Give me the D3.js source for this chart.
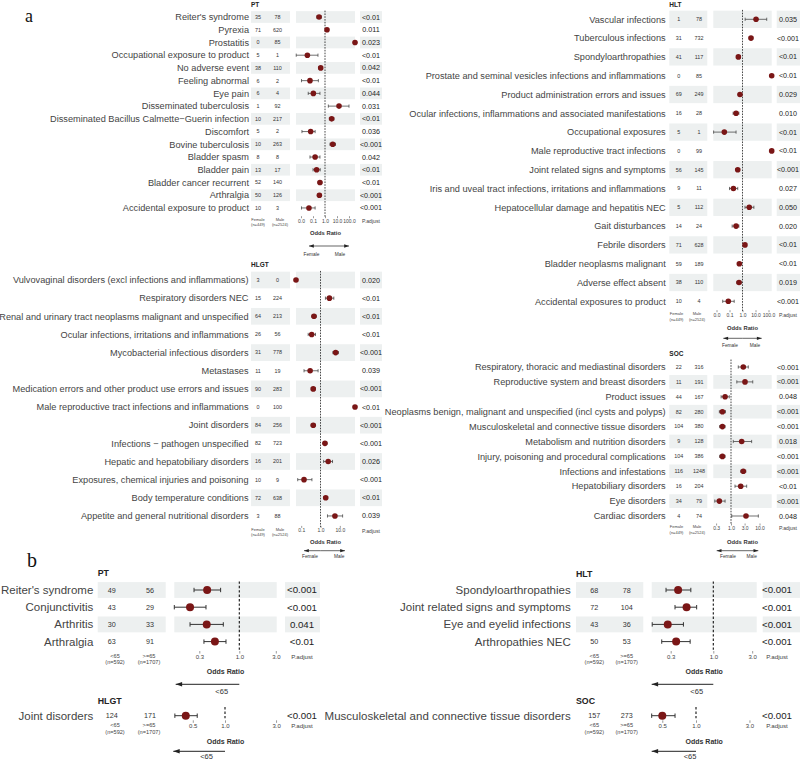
<!DOCTYPE html>
<html><head><meta charset="utf-8">
<script src="https://cdn.jsdelivr.net/npm/d3@7"></script>
<style>body{margin:0;background:#fff}svg{display:block}</style>
</head><body>
<svg id="chart" width="800" height="761"></svg>
<script>
// ================= DATA =================
// Panel a — PT
const aPT_labels = ["Reiter's syndrome","Pyrexia","Prostatitis","Occupational exposure to product","No adverse event","Feeling abnormal","Eye pain","Disseminated tuberculosis","Disseminated Bacillus Calmette\u2212Guerin infection","Discomfort","Bovine tuberculosis","Bladder spasm","Bladder pain","Bladder cancer recurrent","Arthralgia","Accidental exposure to product"];
const aPT_n1 = [35,71,0,5,38,6,6,1,10,5,10,8,13,52,50,10];
const aPT_n2 = [78,620,85,1,110,2,4,92,217,2,263,8,17,140,126,3];
const aPT_or = [0.32,1.47,Infinity,0.034,0.44,0.056,0.107,14.7,3.6,0.064,4.4,0.15,0.2,0.38,0.34,0.046];
const aPT_lo = [0.21,1.15,null,0.004,0.3,0.011,0.04,1.9,2.3,0.012,2.6,0.056,0.1,0.27,0.25,0.011];
const aPT_hi = [0.49,1.9,null,0.26,0.62,0.28,0.38,100,5.5,0.15,7.5,0.38,0.4,0.53,0.47,0.15];
const aPT_p = ["<0.01","0.011","0.023","<0.01","0.042","<0.01","0.044","0.031","<0.01","0.036","<0.001","0.042","<0.01","<0.01","<0.001","<0.001"];
const aPT_ticks = [0.01,0.1,1,10,100];

// Panel a — HLGT
const aHLGT_labels = ["Vulvovaginal disorders (excl infections and inflammations)","Respiratory disorders NEC","Renal and urinary tract neoplasms malignant and unspecified","Ocular infections, irritations and inflammations","Mycobacterial infectious disorders","Metastases","Medication errors and other product use errors and issues","Male reproductive tract infections and inflammations","Joint disorders","Infections \u2212 pathogen unspecified","Hepatic and hepatobiliary disorders","Exposures, chemical injuries and poisoning","Body temperature conditions","Appetite and general nutritional disorders"];
const aHLGT_n1 = [3,15,64,26,31,11,90,0,84,82,16,10,72,3];
const aHLGT_n2 = [0,224,213,56,778,19,283,100,256,723,201,9,638,88];
const aHLGT_or = [0,2.9,0.46,0.35,6.1,0.29,0.42,Infinity,0.42,1.7,2.5,0.14,1.86,5.6];
const aHLGT_lo = [null,1.8,0.36,0.23,4.4,0.14,0.33,null,0.33,1.38,1.45,0.066,1.48,2.3];
const aHLGT_hi = [null,4.9,0.6,0.55,8.5,0.75,0.54,null,0.54,2.15,4.2,0.36,2.35,14];
const aHLGT_p = ["0.020","<0.01","<0.01","<0.01","<0.001","0.039","<0.001","<0.01","<0.001","<0.001","0.026","<0.001","<0.01","0.039"];
const aHLGT_ticks = [0.1,1,10];

// Panel a — HLT
const aHLT_labels = ["Vascular infections","Tuberculous infections","Spondyloarthropathies","Prostate and seminal vesicles infections and inflammations","Product administration errors and issues","Ocular infections, inflammations and associated manifestations","Occupational exposures","Male reproductive tract infections","Joint related signs and symptoms","Iris and uveal tract infections, irritations and inflammations","Hepatocellular damage and hepatitis NEC","Gait disturbances","Febrile disorders","Bladder neoplasms malignant","Adverse effect absent","Accidental exposures to product"];
const aHLT_n1 = [1,31,41,0,69,16,5,0,56,9,5,14,71,59,38,10];
const aHLT_n2 = [78,732,117,85,249,28,1,99,145,11,112,24,628,189,110,4];
const aHLT_or = [11,4.5,0.48,Infinity,0.64,0.32,0.04,Infinity,0.43,0.2,3.3,0.32,1.55,0.57,0.54,0.081];
const aHLT_lo = [1.6,3.3,0.34,null,0.48,0.19,0.006,null,0.31,0.1,1.55,0.16,1.22,0.42,0.37,0.03];
const aHLT_hi = [73,6.2,0.68,null,0.86,0.53,0.32,null,0.6,0.43,7.5,0.53,2.0,0.78,0.8,0.23];
const aHLT_p = ["0.035","<0.001","<0.01","<0.01","0.029","0.010","<0.01","<0.01","<0.001","0.027","0.050","0.020","<0.01","<0.01","0.019","<0.001"];
const aHLT_ticks = [0.01,0.1,1,10,100];

// Panel a — SOC
const aSOC_labels = ["Respiratory, thoracic and mediastinal disorders","Reproductive system and breast disorders","Product issues","Neoplasms benign, malignant and unspecified (incl cysts and polyps)","Musculoskeletal and connective tissue disorders","Metabolism and nutrition disorders","Injury, poisoning and procedural complications","Infections and infestations","Hepatobiliary disorders","Eye disorders","Cardiac disorders"];
const aSOC_n1 = [22,11,44,82,104,9,104,116,16,34,4];
const aSOC_n2 = [316,191,167,280,380,128,386,1248,204,79,74];
const aSOC_or = [2.7,3.1,0.62,0.5,0.5,2.37,0.5,2.7,2.19,0.39,3.36];
const aSOC_lo = [1.8,1.6,0.45,0.39,0.4,1.2,0.4,2.2,1.38,0.27,1.06];
const aSOC_hi = [4.05,5.8,0.87,0.64,0.62,5.3,0.62,3.3,3.55,0.62,9.1];
const aSOC_p = ["<0.001","<0.001","0.048","<0.001","<0.001","0.018","<0.001","<0.001","<0.01","<0.001","0.048"];
const aSOC_ticks = [0.3,1,3,10];

// Panel b — PT
const bPT_labels = ["Reiter's syndrome","Conjunctivitis","Arthritis","Arthralgia"];
const bPT_n1 = [49,43,30,63];
const bPT_n2 = [56,29,33,91];
const bPT_or = [0.38,0.227,0.375,0.48];
const bPT_lo = [0.256,0.14,0.227,0.345];
const bPT_hi = [0.57,0.367,0.618,0.67];
const bPT_p = ["<0.001","<0.001","0.041","<0.01"];
const bPT_ticks = [0.3,1,3];

// Panel b — HLGT
const bHLGT_labels = ["Joint disorders"];
const bHLGT_n1 = [124];
const bHLGT_n2 = [171];
const bHLGT_or = [0.43];
const bHLGT_lo = [0.34];
const bHLGT_hi = [0.55];
const bHLGT_p = ["<0.001"];
const bHLGT_ticks = [0.5,1,3];

// Panel b — HLT
const bHLT_labels = ["Spondyloarthropathies","Joint related signs and symptoms","Eye and eyelid infections","Arthropathies NEC"];
const bHLT_n1 = [68,72,43,50];
const bHLT_n2 = [78,104,36,53];
const bHLT_or = [0.37,0.47,0.276,0.35];
const bHLT_lo = [0.263,0.339,0.178,0.233];
const bHLT_hi = [0.53,0.625,0.43,0.52];
const bHLT_p = ["<0.001","<0.001","<0.001","<0.001"];
const bHLT_ticks = [0.3,1,3];

// Panel b — SOC
const bSOC_labels = ["Musculoskeletal and connective tissue disorders"];
const bSOC_n1 = [157];
const bSOC_n2 = [273];
const bSOC_or = [0.5];
const bSOC_lo = [0.40];
const bSOC_hi = [0.65];
const bSOC_p = ["<0.001"];
const bSOC_ticks = [0.5,1,3];

// column headers / direction labels
const sexCols = [["Female","(n=449)"],["Male","(n=2524)"]];
const ageCols = [["<65","(n=592)"],[">=65","(n=1707)"]];
const sexDir = ["Female","Male"];
const ageDir = ["<65"];

// ================= LAYOUT / DRAW =================
const svg = d3.select("#chart");
const FONT = "'Liberation Sans', Arial, Helvetica, sans-serif";
const SHADE = "#edf0f0";
const DOT = "#7a1616";

const smallA = {fHead:6.5,fLab:9.2,fCnt:5.4,fP:7.2,fTick:5,fCol:4,fOR:5.8,fDir:4.8,r:2.8,lw:0.7,cap:1.6,tick:2,ah:3};
const smallB = {fHead:8.8,fLab:11.5,fCnt:7.2,fP:9.7,fTick:6,fCol:5.6,fOR:7,fDir:7.5,r:4,lw:1,cap:2.2,tick:2.5,ah:4};

function drawPanel(L, D) {
  const n = D.labels.length;
  const dom = [Math.pow(10,(L.plot[0]-L.ref)/L.ppd), Math.pow(10,(L.plot[1]-L.ref)/L.ppd)];
  const x = d3.scaleLog().domain(dom).range(L.plot).clamp(true);
  const y = d3.scalePoint().domain(d3.range(n)).range([L.y0, L.y0 + L.dy*(n-1)]);
  const g = svg.append("g").attr("font-family", FONT);
  const rowH = L.dy*0.92;
  const shaded = d3.range(n).filter(i => (n-1-i)%2===1);
  [L.cnt, L.plot, L.pbg].forEach(([a,b]) => {
    g.selectAll(null).data(shaded).join("rect")
      .attr("x", a).attr("width", b-a)
      .attr("y", i => y(i)-rowH/2).attr("height", rowH).attr("fill", SHADE);
  });
  // header
  g.append("text").attr("x", L.cnt[0]).attr("y", L.headY).attr("dy","0.35em")
    .attr("font-size", L.fHead).attr("font-weight","bold").attr("fill","#222").text(L.head);
  // row labels
  g.selectAll(null).data(d3.range(n)).join("text")
    .attr("x", L.labelX).attr("y", i => y(i)).attr("dy","0.35em").attr("text-anchor","end")
    .attr("font-size", L.fLab).attr("fill","#444").text(i => D.labels[i]);
  // counts
  [[D.n1, L.c1],[D.n2, L.c2]].forEach(([arr, cx]) => {
    g.selectAll(null).data(d3.range(n)).join("text")
      .attr("x", cx).attr("y", i => y(i)).attr("dy","0.35em").attr("text-anchor","middle")
      .attr("font-size", L.fCnt).attr("fill","#333").text(i => arr[i]);
  });
  // p values
  g.selectAll(null).data(d3.range(n)).join("text")
    .attr("x", L.pX).attr("y", i => y(i)).attr("dy","0.35em").attr("text-anchor","middle")
    .attr("font-size", L.fP).attr("fill","#222").text(i => D.p[i]);
  // reference dashed line
  const xr = x(1);
  g.append("line").attr("x1",xr).attr("x2",xr)
    .attr("y1", L.y0 - L.dy/2).attr("y2", L.refEnd != null ? L.refEnd : y(n-1) + L.dy/2)
    .attr("stroke","#111").attr("stroke-width",L.lw*1.1).attr("stroke-dasharray", L.dash);
  // confidence intervals
  const ci = d3.range(n).filter(i => D.lo[i] != null);
  g.selectAll(null).data(ci).join("line")
    .attr("x1", i => x(D.lo[i])).attr("x2", i => x(D.hi[i]))
    .attr("y1", i => y(i)).attr("y2", i => y(i))
    .attr("stroke","#333").attr("stroke-width", L.lw);
  ["lo","hi"].forEach(k => {
    g.selectAll(null).data(ci).join("line")
      .attr("x1", i => x(D[k][i])).attr("x2", i => x(D[k][i]))
      .attr("y1", i => y(i)-L.cap).attr("y2", i => y(i)+L.cap)
      .attr("stroke","#333").attr("stroke-width", L.lw);
  });
  // points
  g.selectAll(null).data(d3.range(n)).join("circle")
    .attr("cx", i => D.or[i] === Infinity ? L.plot[1] : (D.or[i] === 0 ? L.plot[0] : x(D.or[i])))
    .attr("cy", i => y(i)).attr("r", L.r).attr("fill", DOT);
  // axis
  const axisTop = L.axisY - L.tick - 1 - 0.36*L.fTick;
  const ax = d3.axisBottom(x).tickValues(D.ticks).tickFormat(d3.format(".1f")).tickSize(L.tick).tickPadding(1);
  const ag = g.append("g").attr("transform", `translate(0,${axisTop})`).call(ax);
  ag.attr("font-size", null).attr("font-family", null);
  ag.select(".domain").remove();
  ag.selectAll("text").attr("font-size", L.fTick).attr("fill","#444");
  ag.selectAll("line").attr("stroke","#555").attr("stroke-width",0.6);
  // column labels
  [[L.cl1, L.cols[0]],[L.cl2, L.cols[1]]].forEach(([cx, lines]) => {
    lines.forEach((t, j) => {
      g.append("text").attr("x", cx).attr("y", L.colY[j]).attr("dy","0.35em").attr("text-anchor","middle")
        .attr("font-size", L.fCol).attr("fill","#444").text(t);
    });
  });
  g.append("text").attr("x", L.pX).attr("y", L.axisY).attr("dy","0.35em").attr("text-anchor","middle")
    .attr("font-size", L.fTick+0.2).attr("fill","#444").text("P.adjust");
  // Odds Ratio title
  g.append("text").attr("x", (L.plot[0]+L.plot[1])/2).attr("y", L.orY).attr("dy","0.35em").attr("text-anchor","middle")
    .attr("font-size", L.fOR).attr("font-weight","bold").attr("fill","#333").text("Odds Ratio");
  // arrows
  const arrowTo = (x2) => {
    g.append("line").attr("x1", xr).attr("x2", x2).attr("y1", L.arrY).attr("y2", L.arrY)
      .attr("stroke","#222").attr("stroke-width", L.lw);
    const s = x2 < xr ? 1 : -1;
    g.append("path").attr("d", `M${x2},${L.arrY}L${x2+s*L.ah*1.6},${L.arrY-L.ah*0.55}L${x2+s*L.ah*1.6},${L.arrY+L.ah*0.55}Z`)
      .attr("fill","#222");
  };
  arrowTo(L.arrL);
  if (L.arrR != null) arrowTo(L.arrR);
  L.dir.forEach((t, j) => {
    g.append("text").attr("x", L.dirX[j]).attr("y", L.dirY).attr("dy","0.35em").attr("text-anchor","middle")
      .attr("font-size", L.fDir).attr("fill","#333").text(t);
  });
}

const data = (labels,n1,n2,or,lo,hi,p,ticks) => ({labels,n1,n2,or,lo,hi,p,ticks});

// a — PT
drawPanel(Object.assign({}, smallA, {head:"PT", headY:4.5, y0:17, dy:12.73, labelX:249, cnt:[251,290], c1:258, c2:277.5, cl1:258, cl2:280,
  plot:[296,355], ref:325, ppd:12, pbg:[360,382], pX:371, axisY:221, colY:[219.5,224.5], orY:233,
  arrY:246, arrL:309, arrR:349, dirY:254.5, dirX:[311.5,340], dir:sexDir, cols:sexCols, refEnd:217, dash:"1.6,1.2"}),
  data(aPT_labels,aPT_n1,aPT_n2,aPT_or,aPT_lo,aPT_hi,aPT_p,aPT_ticks));

// a — HLGT
drawPanel(Object.assign({}, smallA, {head:"HLGT", headY:265, y0:280, dy:18.15, labelX:248.5, cnt:[251,290], c1:258, c2:277.5, cl1:258, cl2:280,
  plot:[296,355], ref:320.5, ppd:19.3, pbg:[360,382], pX:371, axisY:530.7, colY:[529.5,534.5], orY:541.7,
  arrY:550.7, arrL:304, arrR:345, dirY:556.7, dirX:[310,339.3], dir:sexDir, cols:sexCols, refEnd:527, dash:"1.6,1.2"}),
  data(aHLGT_labels,aHLGT_n1,aHLGT_n2,aHLGT_or,aHLGT_lo,aHLGT_hi,aHLGT_p,aHLGT_ticks));

// a — HLT
drawPanel(Object.assign({}, smallA, {head:"HLT", headY:5, y0:19.3, dy:18.8, labelX:665.7, cnt:[669.3,707.3], c1:678.7, c2:699, cl1:676.5, cl2:697,
  plot:[713.3,771.7], ref:742.5, ppd:13, pbg:[776.7,800], pX:788, axisY:315, colY:[314,319.5], orY:328.3,
  arrY:338.3, arrL:723.3, arrR:761.7, dirY:345, dirX:[730,755], dir:sexDir, cols:sexCols, refEnd:311, dash:"1.6,1.2"}),
  data(aHLT_labels,aHLT_n1,aHLT_n2,aHLT_or,aHLT_lo,aHLT_hi,aHLT_p,aHLT_ticks));

// a — SOC
drawPanel(Object.assign({}, smallA, {head:"SOC", headY:353.3, y0:367, dy:14.9, labelX:665.7, cnt:[669.3,707.3], c1:678.7, c2:699, cl1:676.5, cl2:697,
  plot:[713.3,771.7], ref:731, ppd:28.5, pbg:[776.7,800], pX:788, axisY:528.3, colY:[527,532.5], orY:541.7,
  arrY:550.7, arrL:716.7, arrR:758.3, dirY:556.7, dirX:[728,751.7], dir:sexDir, cols:sexCols, refEnd:524.5, dash:"1.6,1.2"}),
  data(aSOC_labels,aSOC_n1,aSOC_n2,aSOC_or,aSOC_lo,aSOC_hi,aSOC_p,aSOC_ticks));

// b — PT
drawPanel(Object.assign({}, smallB, {head:"PT", headY:573.3, y0:590, dy:17.2, labelX:93.3, cnt:[97.7,165.7], c1:111.7, c2:150, cl1:115, cl2:149,
  plot:[174.3,276.7], ref:239.3, ppd:76.5, pbg:[285,320], pX:302, axisY:656.7, colY:[655.7,662.3], orY:671.7,
  arrY:684.3, arrL:175.7, dirY:691, dirX:[221.7], dir:ageDir, cols:ageCols, refEnd:651, dash:"2.4,2"}),
  data(bPT_labels,bPT_n1,bPT_n2,bPT_or,bPT_lo,bPT_hi,bPT_p,bPT_ticks));

// b — HLGT
drawPanel(Object.assign({}, smallB, {head:"HLGT", headY:701, y0:715.7, dy:17.2, labelX:93.3, cnt:[97.7,165.7], c1:111.7, c2:150, cl1:115, cl2:149,
  plot:[174.3,276.7], ref:225, ppd:107, pbg:[285,320], pX:302, axisY:726, colY:[725,731.8], orY:741.5,
  arrY:751.3, arrL:173.3, dirY:756.3, dirX:[206.5], dir:ageDir, cols:ageCols, refEnd:720, dash:"2.4,2"}),
  data(bHLGT_labels,bHLGT_n1,bHLGT_n2,bHLGT_or,bHLGT_lo,bHLGT_hi,bHLGT_p,bHLGT_ticks));

// b — HLT
drawPanel(Object.assign({}, smallB, {head:"HLT", headY:574, y0:590, dy:17.2, labelX:570.7, cnt:[576,643.3], c1:594.3, c2:626.7, cl1:594.3, cl2:626.7,
  plot:[651.7,756.7], ref:713.3, ppd:81.5, pbg:[762.7,800], pX:777, axisY:656.7, colY:[655.7,662.3], orY:671.7,
  arrY:684.3, arrL:651.7, dirY:691, dirX:[696.7], dir:ageDir, cols:ageCols, refEnd:651, dash:"2.4,2"}),
  data(bHLT_labels,bHLT_n1,bHLT_n2,bHLT_or,bHLT_lo,bHLT_hi,bHLT_p,bHLT_ticks));

// b — SOC
drawPanel(Object.assign({}, smallB, {head:"SOC", headY:701, y0:715.7, dy:17.2, labelX:570.7, cnt:[576,643.3], c1:594.3, c2:626.7, cl1:594.3, cl2:626.7,
  plot:[651.7,756.7], ref:696, ppd:112, pbg:[762.7,800], pX:777, axisY:726, colY:[725,731.8], orY:741.5,
  arrY:751.3, arrL:651.7, dirY:756.3, dirX:[690], dir:ageDir, cols:ageCols, refEnd:720, dash:"2.4,2"}),
  data(bSOC_labels,bSOC_n1,bSOC_n2,bSOC_or,bSOC_lo,bSOC_hi,bSOC_p,bSOC_ticks));

// panel letters
svg.append("text").attr("x",25).attr("y",22).attr("font-family","'Liberation Serif','DejaVu Serif',serif")
  .attr("font-size",18).attr("fill","#111").text("a");
svg.append("text").attr("x",27).attr("y",567).attr("font-family","'Liberation Serif','DejaVu Serif',serif")
  .attr("font-size",20).attr("fill","#111").text("b");
</script>
</body></html>
